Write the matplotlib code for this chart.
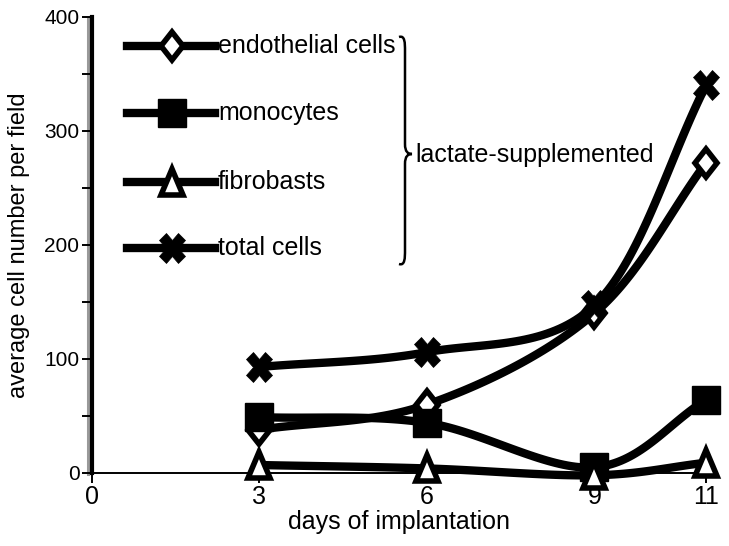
import numpy as np
import matplotlib
matplotlib.use("Agg")
import matplotlib.pyplot as plt
from matplotlib.lines import Line2D
from matplotlib.path import Path
from matplotlib.patches import PathPatch
from matplotlib.markers import MarkerStyle
from matplotlib.transforms import Affine2D

plt.rcParams['font.family'] = ['Liberation Sans', 'DejaVu Sans']

days = [3, 6, 9, 11]
endothelial = [38, 60, 140, 272]
monocytes = [49, 44, 5, 64]
fibroblasts = [7, 4, -2, 9]
total = [93, 106, 147, 340]

legend_labels = ["endothelial cells", "monocytes", "fibrobasts", "total cells"]
bracket_label = "lactate-supplemented"
x_ticks = [0, 3, 6, 9, 11]
y_ticks = [0, 100, 200, 300, 400]
y_minor = [50, 150, 250, 350]

styles = [
    dict(marker=MarkerStyle('D', transform=Affine2D().scale(0.8, 1.0)), markersize=14.5,
         markerfacecolor='white', markeredgewidth=4),
    dict(marker='s', markersize=20, markerfacecolor='black', markeredgewidth=1),
    dict(marker=MarkerStyle('^', transform=Affine2D().scale(0.85, 1.0)), markersize=19,
         markerfacecolor='white', markeredgewidth=4),
    dict(marker=MarkerStyle('X', transform=Affine2D().scale(0.82, 1.0)), markersize=22,
         markerfacecolor='black', markeredgewidth=0.5),
]
series = list(zip(legend_labels, [endothelial, monocytes, fibroblasts, total], styles))


def smooth(xs, ys, n=40):
    P = np.column_stack([xs, ys]).astype(float)
    k = len(P)
    T = np.zeros_like(P)
    for i in range(k):
        if i == 0:
            T[i] = (P[1] - P[0])
        elif i == k - 1:
            T[i] = (P[-1] - P[-2])
        else:
            T[i] = (P[i + 1] - P[i - 1]) / 2
    out = []
    t = np.linspace(0, 1, n)[:, None]
    for i in range(k - 1):
        p0, p3 = P[i], P[i + 1]
        p1 = p0 + T[i] / 3
        p2 = p3 - T[i + 1] / 3
        seg = (1 - t) ** 3 * p0 + 3 * (1 - t) ** 2 * t * p1 + 3 * (1 - t) * t ** 2 * p2 + t ** 3 * p3
        out.append(seg if i == 0 else seg[1:])
    S = np.vstack(out)
    return S[:, 0], S[:, 1]


W, H = 729, 546


def fx(px):
    return px / W


def fy(py):
    return 1 - py / H


fig = plt.figure(figsize=(7.29, 5.46), dpi=100)
ax = fig.add_axes([fx(92), fy(473), (706 - 92) / W, (473 - 17) / H])
ax.set_xlim(0, 11)
ax.set_ylim(0, 400)

for label, ys, mk in series:
    sx, sy = smooth(days, ys)
    ax.plot(sx, sy, color='black', lw=6, solid_capstyle='round', clip_on=False, zorder=3)
    ax.plot(days, ys, linestyle='none', color='black', markeredgecolor='black', clip_on=False, zorder=4, **mk)

for s in ['top', 'right']:
    ax.spines[s].set_visible(False)
ax.spines['left'].set_linewidth(3)
ax.spines['bottom'].set_linewidth(1.4)
ax.set_xticks(x_ticks)
ax.set_yticks(y_ticks)
ax.set_yticks(y_minor, minor=True)
ax.tick_params(axis='both', which='major', direction='out', length=7, width=1.4)
ax.tick_params(axis='x', which='major', labelsize=18, pad=2)
ax.tick_params(axis='y', which='major', labelsize=15, pad=2)
ax.tick_params(axis='y', which='minor', direction='out', length=7, width=1.4)
ax.set_xlabel("days of implantation", fontsize=18)
ax.xaxis.set_label_coords(0.5, -(510 - 473) / 456)
ax.set_ylabel("average cell number per field", fontsize=17)
ax.yaxis.set_label_coords(-(92 - 30) / 614, 0.5)

# gray shadow on y axis
fig.add_artist(Line2D([fx(88.3), fx(88.3)], [fy(474), fy(19)], color='#9a9a9a', lw=2.2, zorder=0))

# legend drawn manually
rows_px = [46, 113, 182, 248]
for (label, ys, mk), ypx in zip(series, rows_px):
    yf = fy(ypx)
    fig.add_artist(Line2D([fx(127), fx(215)], [yf, yf], color='black', lw=6))
    fig.add_artist(Line2D([fx(172)], [yf], linestyle='none', color='black', markeredgecolor='black', **mk))
    fig.text(fx(218), fy(ypx + 7), label, fontsize=18, va='baseline', ha='left')

# brace
xl, xb, xt = 399, 405, 412
ytop, ymid, ybot = 37, 154, 264
verts = [
    (fx(xl), fy(ytop)), (fx(xb), fy(ytop - 2)), (fx(xb), fy(ytop + 6)), (fx(xb), fy(ytop + 14)),
    (fx(xb), fy(ymid - 10)),
    (fx(xb), fy(ymid - 2)), (fx(xt - 4), fy(ymid)), (fx(xt), fy(ymid)),
    (fx(xt - 4), fy(ymid)), (fx(xb), fy(ymid + 2)), (fx(xb), fy(ymid + 10)),
    (fx(xb), fy(ybot - 14)),
    (fx(xb), fy(ybot - 6)), (fx(xb), fy(ybot + 2)), (fx(xl), fy(ybot)),
]
codes = [Path.MOVETO, Path.CURVE4, Path.CURVE4, Path.CURVE4,
         Path.LINETO,
         Path.CURVE4, Path.CURVE4, Path.CURVE4,
         Path.CURVE4, Path.CURVE4, Path.CURVE4,
         Path.LINETO,
         Path.CURVE4, Path.CURVE4, Path.CURVE4]
fig.add_artist(PathPatch(Path(verts, codes), facecolor='none', edgecolor='black', lw=1.8,
                         transform=fig.transFigure))
fig.text(fx(415), fy(155), bracket_label, fontsize=18, va='center', ha='left')

fig.savefig("out.png", dpi=100)
